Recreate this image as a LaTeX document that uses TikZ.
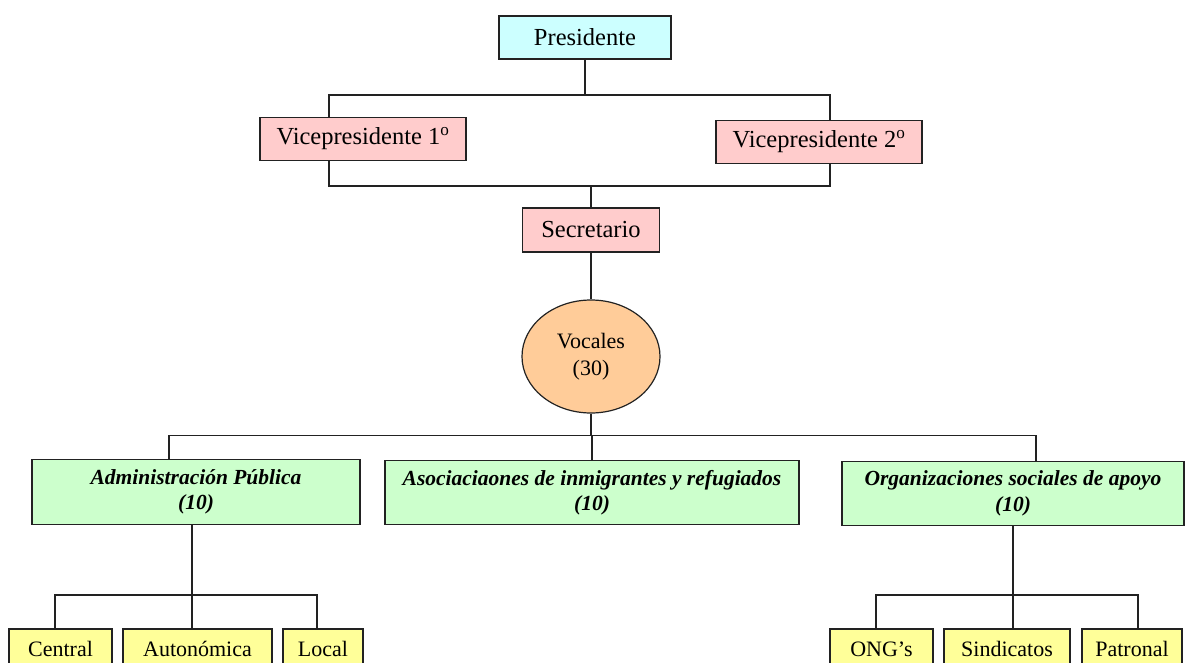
\documentclass[tikz,border=0pt]{standalone}
\usepackage{fontspec}
\setmainfont{Liberation Serif}
\usetikzlibrary{shapes.geometric}

\definecolor{cyanfill}{HTML}{CCFFFF}
\definecolor{pinkfill}{HTML}{FFCCCC}
\definecolor{orangefill}{HTML}{FFCC99}
\definecolor{greenfill}{HTML}{CCFFCC}
\definecolor{yellowfill}{HTML}{FFFF99}
\definecolor{edge}{HTML}{222222}

\tikzset{
  box/.style={draw=edge, line width=1.2pt, inner sep=0pt, align=center,
              font=\fontsize{24.5}{28}\selectfont},
  topbox/.style={box, fill=cyanfill},
  officer/.style={box, fill=pinkfill},
  group/.style={box, fill=greenfill, font=\fontsize{21.5}{25.5}\selectfont\bfseries\itshape},
  leaf/.style={box, fill=yellowfill, font=\fontsize{22}{26}\selectfont},
  link/.style={draw=edge, line width=1.3pt}
}

\begin{document}
\begin{tikzpicture}[x=1pt, y=-1pt]
\useasboundingbox[fill=white] (0,0) rectangle (1185,663);

% upper levels
\node[topbox, minimum width=172pt, minimum height=43pt] (pres) at (585,37.5) {Presidente};
\node[officer, minimum width=206pt, minimum height=43pt] (vp1) at (363,139) {Vicepresidente 1\textsuperscript{o}};
\node[officer, minimum width=206pt, minimum height=43pt] (vp2) at (819,142) {Vicepresidente 2\textsuperscript{o}};
\node[officer, minimum width=137pt, minimum height=44pt] (sec) at (591,230) {Secretario};
\node[ellipse, draw=edge, line width=1.2pt, fill=orangefill, inner sep=0pt,
      minimum width=138pt, minimum height=113pt, align=center,
      font=\fontsize{22}{27}\selectfont] (voc) at (591,356.5) {Vocales\\(30)};

% groups of members
\node[group, minimum width=328pt, minimum height=65pt] (adm) at (196,492) {Administración Pública\\(10)};
\node[group, minimum width=414pt, minimum height=64pt] (aso) at (592,492.5) {Asociaciaones de inmigrantes y refugiados\\(10)};
\node[group, minimum width=342pt, minimum height=64pt] (org) at (1013,493.5) {Organizaciones sociales de apoyo\\(10)};

% leaves (run past the lower edge)
\node[leaf, minimum width=103pt, minimum height=40pt] (cen) at (60.5,649) {Central};
\node[leaf, minimum width=149pt, minimum height=40pt] (aut) at (197.5,649) {Autonómica};
\node[leaf, minimum width=80pt, minimum height=40pt] (loc) at (323,649) {Local};
\node[leaf, minimum width=103pt, minimum height=40pt] (ong) at (881.5,649) {ONG’s};
\node[leaf, minimum width=126pt, minimum height=40pt] (sin) at (1007,649) {Sindicatos};
\node[leaf, minimum width=100pt, minimum height=40pt] (pat) at (1132,649) {Patronal};

% bus coordinates
\coordinate (busA) at (329,95);
\coordinate (busAr) at (830,95);
\coordinate (busB) at (329,186);
\coordinate (busBr) at (830,186);
\coordinate (busC) at (169,435.5);
\coordinate (busCr) at (1036,435.5);
\coordinate (busD) at (55,595);
\coordinate (busDr) at (317,595);
\coordinate (busE) at (876,595);
\coordinate (busEr) at (1138,595);

% president to vice-presidents
\draw[link] (pres.south) -- (pres.south |- busA);
\draw[link] (busA |- vp1.north) -- (busA) -- (busAr) -- (busAr |- vp2.north);
% vice-presidents to secretary
\draw[link] (busB |- vp1.south) -- (busB) -- (busBr) -- (busBr |- vp2.south);
\draw[link] (sec.north |- busB) -- (sec.north);
\draw[link] (sec.south) -- (voc.north);
% members to groups
\draw[link] (voc.south) -- (voc.south |- busC);
\draw[link] (busC |- adm.north) -- (busC) -- (busCr) -- (busCr |- org.north);
\draw[link] (aso.north |- busC) -- (aso.north);
% public administration
\draw[link] ([xshift=-4pt]adm.south) -- ([xshift=-4pt]adm.south |- busD);
\draw[link] (busD |- cen.north) -- (busD) -- (busDr) -- (busDr |- loc.north);
\draw[link] ([xshift=-4pt]adm.south |- busD) -- ([xshift=-4pt]adm.south |- aut.north);
% social organisations
\draw[link] (org.south) -- (org.south |- busE);
\draw[link] (busE |- ong.north) -- (busE) -- (busEr) -- (busEr |- pat.north);
\draw[link] (org.south |- busE) -- (org.south |- sin.north);
\end{tikzpicture}
\end{document}
